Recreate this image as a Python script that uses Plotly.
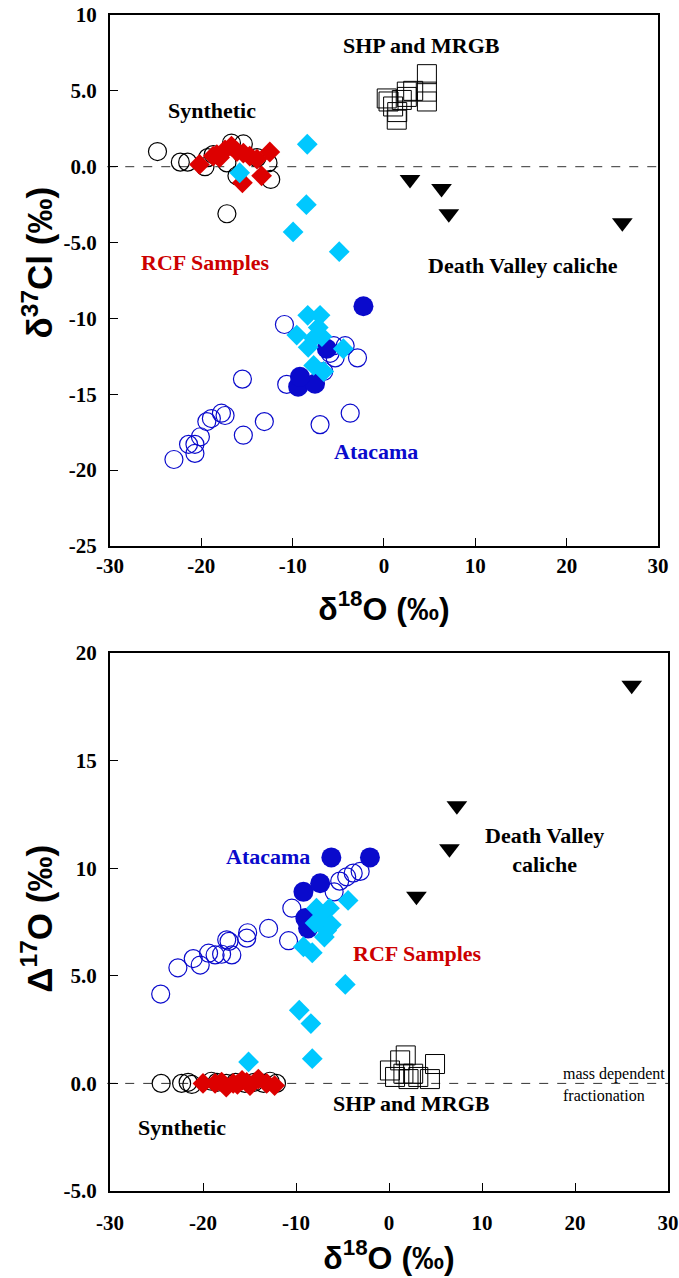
import plotly.graph_objects as go

# ---------------- Top panel data (d18O vs d37Cl) ----------------
syn_x_top = [-24.8, -22.3, -21.5, -19.6, -19.3, -18.7, -17.2, -16.7, -16.1, -15.4, -13.9, -12.7, -12.4, -17.2]
syn_y_top = [1.0, 0.3, 0.3, 0.0, 0.6, 0.8, 0.25, 1.56, -0.6, 1.5, 0.6, 0.25, -0.84, -3.1]

rcf_x_top = [-20.2, -18.7, -18.3, -18.0, -17.4, -16.7, -16.1, -15.4, -14.7, -13.9, -12.5, -13.4, -15.5]
rcf_y_top = [0.15, 0.7, 0.8, 0.6, 1.1, 1.35, 1.0, 0.9, 0.7, 0.5, 0.97, -0.6, -1.06]

cyan_x_top = [-15.8, -8.4, -8.5, -9.95, -4.9, -8.35, -7.0, -9.55, -7.7, -8.3, -6.8, -4.45, -7.7, -6.6, -7.2]
cyan_y_top = [-0.4, 1.48, -2.5, -4.3, -5.6, -9.8, -9.8, -11.1, -11.3, -11.9, -11.2, -12.0, -13.1, -13.5, -10.6]

ata_fill_x_top = [-2.25, -6.25, -9.4, -7.55, -9.2]
ata_fill_y_top = [-9.2, -12.0, -14.5, -14.3, -13.85]

ata_open_x_top = [-10.9, -5.5, -4.25, -2.9, -5.35, -6.6, -10.65, -15.5, -3.7, -7.0, -13.1, -15.4,
                  -17.4, -17.8, -18.9, -19.4, -20.1, -20.7, -21.4, -20.7, -23.0, -5.9]
ata_open_y_top = [-10.4, -11.8, -11.8, -12.6, -12.6, -13.5, -14.35, -14.0, -16.25, -17.0, -16.8, -17.7,
                  -16.4, -16.25, -16.6, -16.8, -17.8, -18.3, -18.3, -18.9, -19.3, -12.3]

shp_x_top = [4.7, 2.5, 4.7, 4.7, 0.5, 1.0, 1.95, 2.5, 1.45, 1.4, 0.3, 3.2]
shp_y_top = [6.1, 4.95, 4.95, 4.3, 4.3, 3.97, 4.4, 4.6, 3.6, 3.1, 4.5, 5.0]

dv_x_top = [2.85, 6.3, 7.1, 26.1]
dv_y_top = [-0.84, -1.43, -3.1, -3.7]

# ---------------- Bottom panel data (d18O vs D17O) ----------------
syn_x_bot = [-24.5, -22.3, -21.6, -21.2, -19.1, -18.5, -17.5, -16.5, -15.5, -14.5, -13.5, -12.8, -12.1]
syn_y_bot = [0.0, 0.0, 0.05, -0.05, 0.1, 0.05, 0.0, 0.05, 0.0, 0.05, 0.0, 0.1, 0.0]

rcf_x_bot = [-20.0, -18.7, -18.0, -17.5, -16.75, -15.8, -14.95, -14.05, -13.15, -12.3, -15.3, -16.3]
rcf_y_bot = [0.0, 0.0, 0.06, -0.17, 0.0, 0.14, -0.1, 0.2, 0.0, -0.1, 0.05, -0.05]

cyan_x_bot = [-15.1, -8.25, -9.65, -8.4, -4.7, -9.2, -8.25, -6.95, -6.7, -7.24, -7.8, -6.4, -6.2, -4.4, -7.95]
cyan_y_bot = [1.0, 1.15, 3.4, 2.78, 4.6, 6.35, 6.07, 6.8, 7.1, 7.6, 8.14, 8.14, 7.37, 8.5, 7.45]

ata_fill_x_bot = [-6.2, -2.05, -9.2, -7.4, -9.0, -8.7]
ata_fill_y_bot = [10.5, 10.5, 8.9, 9.3, 7.68, 7.2]

ata_open_x_bot = [-24.55, -22.7, -21.05, -20.3, -19.4, -18.7, -17.45, -16.9, -15.3, -15.2, -12.95, -10.8,
                  -10.45, -5.9, -5.3, -4.55, -3.85, -3.1, -17.2, -18.0]
ata_open_y_bot = [4.15, 5.37, 5.8, 5.5, 6.05, 5.97, 6.67, 5.97, 6.75, 7.0, 7.2, 6.63,
                  8.14, 8.9, 9.4, 9.6, 9.77, 9.85, 6.6, 6.0]

shp_x_bot = [1.8, 1.2, 0.1, 0.65, 2.6, 3.15, 4.95, 4.4, 2.1, 1.55]
shp_y_bot = [1.3, 1.07, 0.6, 0.3, 0.45, 0.3, 0.9, 0.2, 0.2, 0.45]

dv_x_bot = [2.95, 6.5, 7.3, 26.1]
dv_y_bot = [8.7, 10.9, 12.9, 18.5]

# ---------------- Axis ticks ----------------
x_ticks = [-30, -20, -10, 0, 10, 20, 30]
x_ticklabels = ["-30", "-20", "-10", "0", "10", "20", "30"]
y_ticks_top = [10, 5, 0, -5, -10, -15, -20, -25]
y_ticklabels_top = ["10", "5.0", "0.0", "-5.0", "-10", "-15", "-20", "-25"]
y_ticks_bot = [20, 15, 10, 5, 0, -5]
y_ticklabels_bot = ["20", "15", "10", "5.0", "0.0", "-5.0"]

BLACK = "#000000"
RED = "#DD0000"
CYAN = "#00C8FF"
BLUE = "#0A0ACC"
SERIF = "Liberation Serif"
SANS = "Liberation Sans"

fig = go.Figure()


def add_panel(xa, ya, syn, rcf, cyan, afill, aopen, shp, dv):
    common = dict(xaxis=xa, yaxis=ya, mode="markers", showlegend=False, hoverinfo="skip")
    fig.add_trace(go.Scatter(x=syn[0], y=syn[1], marker=dict(symbol="circle-open", size=18, color=BLACK,
                                                                line=dict(width=1.2, color=BLACK)), **common))
    fig.add_trace(go.Scatter(x=rcf[0], y=rcf[1], marker=dict(symbol="diamond", size=16, color=RED,
                                                                line=dict(width=0)), **common))
    fig.add_trace(go.Scatter(x=aopen[0], y=aopen[1], marker=dict(symbol="circle-open", size=18, color=BLUE,
                                                                  line=dict(width=1.2, color=BLUE)), **common))
    fig.add_trace(go.Scatter(x=afill[0], y=afill[1], marker=dict(symbol="circle", size=20, color=BLUE,
                                                                  line=dict(width=0)), **common))
    fig.add_trace(go.Scatter(x=cyan[0], y=cyan[1], marker=dict(symbol="diamond", size=16, color=CYAN,
                                                                line=dict(width=0)), **common))
    fig.add_trace(go.Scatter(x=shp[0], y=shp[1], marker=dict(symbol="square-open", size=19, color=BLACK,
                                                              line=dict(width=1, color=BLACK)), **common))
    fig.add_trace(go.Scatter(x=dv[0], y=dv[1], marker=dict(symbol="triangle-down", size=18, color=BLACK,
                                                            line=dict(width=0)), **common))


add_panel("x", "y", (syn_x_top, syn_y_top), (rcf_x_top, rcf_y_top), (cyan_x_top, cyan_y_top),
          (ata_fill_x_top, ata_fill_y_top), (ata_open_x_top, ata_open_y_top),
          (shp_x_top, shp_y_top), (dv_x_top, dv_y_top))
add_panel("x2", "y2", (syn_x_bot, syn_y_bot), (rcf_x_bot, rcf_y_bot), (cyan_x_bot, cyan_y_bot),
          (ata_fill_x_bot, ata_fill_y_bot), (ata_open_x_bot, ata_open_y_bot),
          (shp_x_bot, shp_y_bot), (dv_x_bot, dv_y_bot))

tickfont = dict(family=SERIF, size=21, color=BLACK, weight="bold")
xtitlefont = dict(family=SANS, size=32, color=BLACK, weight="bold")
ytitlefont = dict(family=SANS, size=35, color=BLACK, weight="bold")
axis_common = dict(showline=True, mirror=True, linewidth=2, linecolor=BLACK, ticks="inside",
                   ticklen=8, tickwidth=1, tickcolor=BLACK, showgrid=False, zeroline=False,
                   tickfont=tickfont, fixedrange=True, automargin=False, ticklabeloverflow="allow")

fig.update_layout(
    width=679, height=1278,
    margin=dict(l=110, r=11, t=15, b=87),
    paper_bgcolor="white", plot_bgcolor="white",
    xaxis=dict(domain=[0, 0.982], range=[-30, 30], tickvals=x_ticks, ticktext=x_ticklabels,
               anchor="y", ticklabelstandoff=0,
               title=dict(text="δ<sup>18</sup>O (‰)", font=xtitlefont, standoff=20), **axis_common),
    yaxis=dict(domain=[0.5485, 1], range=[-25, 10], tickvals=y_ticks_top, ticktext=y_ticklabels_top,
               anchor="x", ticklabelstandoff=7, **axis_common),
    xaxis2=dict(domain=[0, 1], range=[-30, 30], tickvals=x_ticks, ticktext=x_ticklabels,
                anchor="y2", ticklabelstandoff=12,
                title=dict(text="δ<sup>18</sup>O (‰)", font=xtitlefont, standoff=2), **axis_common),
    yaxis2=dict(domain=[0, 0.4575], range=[-5, 20], tickvals=y_ticks_bot, ticktext=y_ticklabels_bot,
                anchor="x2", ticklabelstandoff=7, **axis_common),
)

# y-axis titles, placed as rotated paper-anchored labels
fig.add_annotation(xref="paper", yref="paper", x=-0.13, y=0.79, text="δ<sup>37</sup>Cl (‰)",
                   textangle=-90, showarrow=False, xanchor="center", yanchor="middle", font=ytitlefont)
fig.add_annotation(xref="paper", yref="paper", x=-0.13, y=0.232, text="Δ<sup>17</sup>O (‰)",
                   textangle=-90, showarrow=False, xanchor="center", yanchor="middle", font=ytitlefont)

# dashed reference lines at zero
for xr, yr in (("x domain", "y"), ("x2 domain", "y2")):
    fig.add_shape(type="line", xref=xr, yref=yr, x0=-0.005, x1=1, y0=0, y1=0,
                  line=dict(color="#333333", width=1, dash="dash"), layer="below")

ann_font = dict(family=SERIF, size=22, color=BLACK, weight="bold")
ann_red = dict(ann_font, color="#CC0000")
ann_blue = dict(ann_font, color=BLUE)

annotations = [
    ("x", "y", 4.1, 8.0, "SHP and MRGB", ann_font),
    ("x", "y", -18.8, 3.7, "Synthetic", ann_font),
    ("x", "y", -19.5, -6.3, "RCF Samples", ann_red),
    ("x", "y", 15.2, -6.5, "Death Valley caliche", ann_font),
    ("x", "y", -0.9, -18.75, "Atacama", ann_blue),
    ("x2", "y2", -13.06, 10.53, "Atacama", ann_blue),
    ("x2", "y2", 16.67, 10.83, "Death Valley<br>caliche", ann_font),
    ("x2", "y2", 3.1, 6.03, "RCF Samples", ann_red),
    ("x2", "y2", -22.3, -2.04, "Synthetic", ann_font),
    ("x2", "y2", 2.37, -0.95, "SHP and MRGB", ann_font),
]
for xr, yr, x, y, t, f in annotations:
    fig.add_annotation(xref=xr, yref=yr, x=x, y=y, text=t, showarrow=False, font=f,
                       xanchor="center", yanchor="middle", align="center")

small = dict(family=SERIF, size=16, color=BLACK)
fig.add_annotation(xref="x2", yref="y2", x=18.5, y=0.42, text="mass dependent",
                   showarrow=False, xanchor="left", yanchor="middle", font=small)
fig.add_annotation(xref="x2", yref="y2", x=18.5, y=-0.55, text="fractionation",
                   showarrow=False, xanchor="left", yanchor="middle", font=small)

# remove the default page margin so the figure fills the window exactly; hide the modebar
fig.write_html("out.html", post_script="document.body.style.margin='0';",
               config={"displayModeBar": False})
